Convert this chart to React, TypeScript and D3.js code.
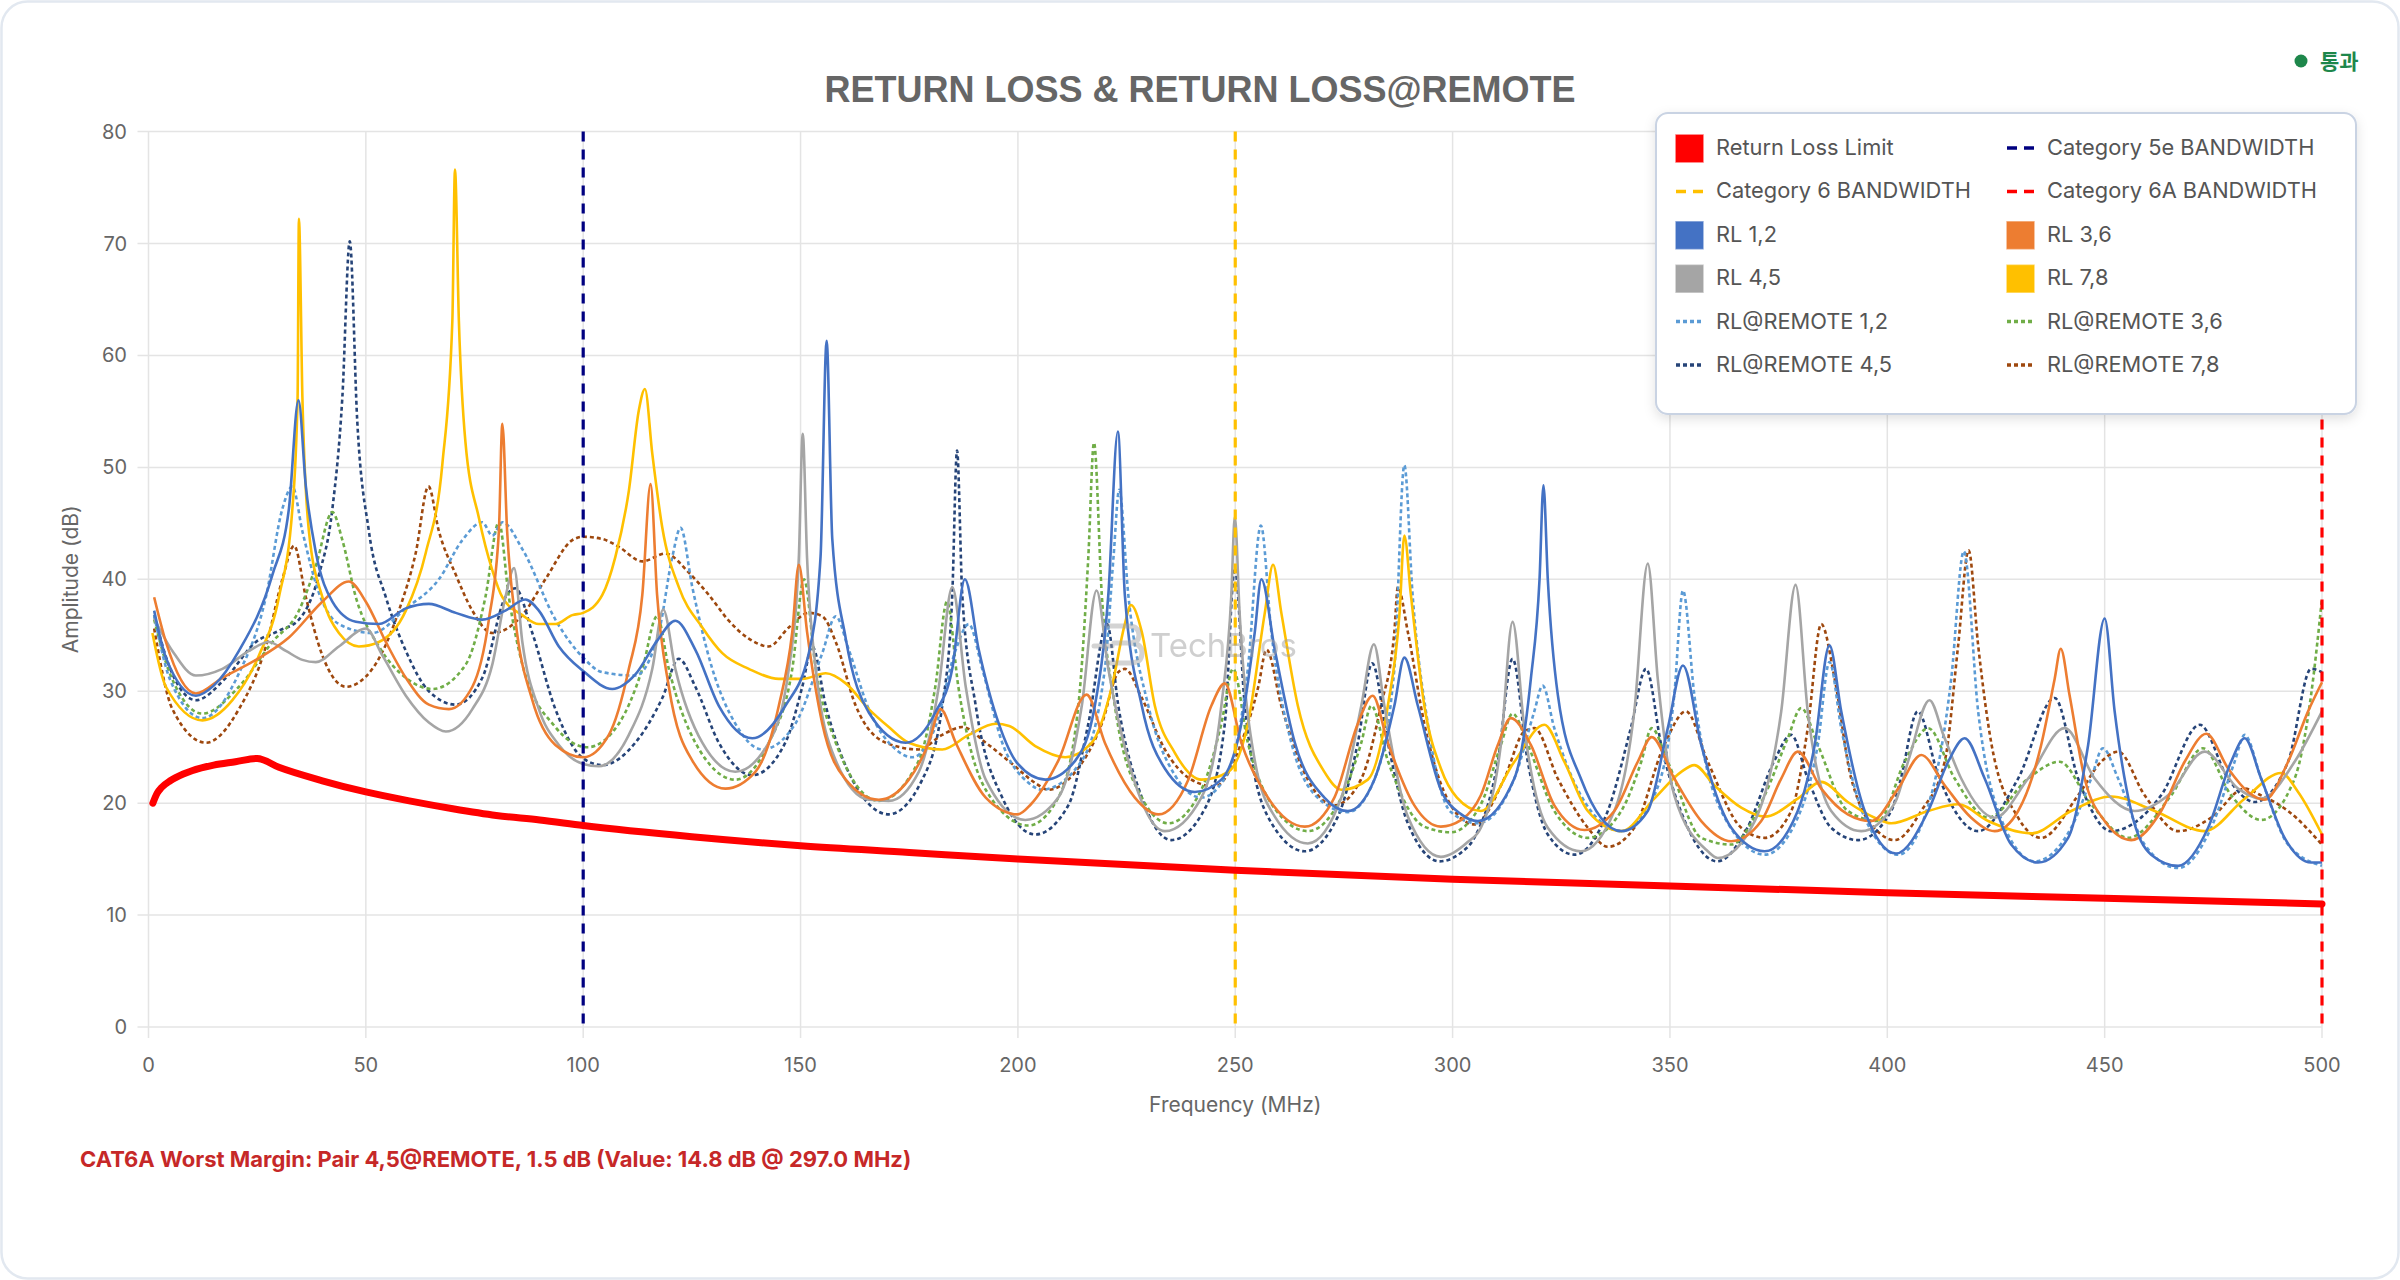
import React from "react";
import * as d3 from "d3";

type P = [number, number];

const X_TICKS = [0, 50, 100, 150, 200, 250, 300, 350, 400, 450, 500];
const Y_TICKS = [0, 10, 20, 30, 40, 50, 60, 70, 80];

const LIMIT: P[] = [[1,20],[2,20.9],[3,21.4],[5,22],[8,22.6],[10,22.9],[15,23.4],[20,23.7],[25,24],[30,23.2],[40,22],[50,21],[60,20.2],[70,19.5],[80,18.9],[90,18.5],[100,18],[125,17],[150,16.2],[175,15.6],[200,15],[250,14],[300,13.2],[350,12.6],[400,12],[450,11.5],[500,11]];

const RL_12: P[] = [[1.3,37.2],[4,33],[10.9,29.6],[15,30.5],[20.8,33.6],[28.5,40.4],[32.3,46.3],[34.5,56],[36.2,48.3],[38.5,42.4],[42.3,38],[47.7,36.2],[53,36],[59.2,37.4],[64.5,37.8],[70.7,37],[76.8,36.4],[82.1,37.2],[86.7,38.2],[89.8,37.2],[94.4,34],[100,31.8],[106.7,30.2],[112,31.5],[117,34.5],[121.2,36.3],[125.8,33.7],[131.2,28.7],[138.9,25.8],[146.5,28.7],[151.9,33.4],[154.6,42],[156,61.3],[157.3,43.6],[160.4,34.7],[165.7,28.1],[174.2,25.4],[181,28.1],[184.9,32],[187.8,40],[191,33.7],[195.6,27.1],[200,23.5],[206.3,22.1],[213.2,23.8],[217.7,28.7],[220.8,38.6],[223,53.2],[224.6,38.6],[228.5,28.7],[233.8,23.1],[240.7,21],[246.8,22.1],[251.4,27.1],[254.5,35.3],[256,40],[259.1,33.7],[263.7,25.4],[270.5,20.5],[275.9,19.3],[282,22.1],[286.6,28.7],[288.9,33],[292,28.7],[297.3,21.2],[302,19],[305.8,18.4],[314.2,22.2],[318,31.1],[320,40],[320.9,48.4],[321.9,40],[324.2,29.7],[329.5,22.2],[338.8,17.5],[344.9,19.3],[349.5,26.7],[353,32.3],[357.2,25.2],[364.1,17.8],[371.8,15.7],[379.4,19.3],[383.3,25.2],[386.7,34.1],[389.4,28.2],[394.8,19.3],[402,15.5],[409.4,19.3],[414,23.7],[417.8,25.8],[422.4,22.2],[428.5,16.3],[434.7,14.7],[441.6,16.9],[446.2,25.2],[450,36.5],[452.3,28.2],[456.1,19.3],[460.7,15.4],[466.9,14.4],[473.8,17.8],[479.1,23.7],[482.2,25.8],[486,22.2],[491.4,16.9],[497.5,14.7],[500,14.7]];

const RL_36: P[] = [[1.3,38.4],[4,34.4],[10.9,29.8],[17,31.2],[24.7,32.8],[32.3,34.8],[40,38],[46.1,39.8],[50,38],[54.6,34.4],[59.2,31.2],[64.5,28.8],[69.1,28.4],[74.5,30.4],[78.3,36.4],[80.6,44.3],[81.4,53.9],[82.5,44.3],[84.4,36.4],[88.3,29.2],[93.6,25.2],[100,24.1],[105.9,26.1],[110.5,32],[113.6,38.6],[115.5,48.5],[117,38.6],[119.7,30.4],[125.1,23.8],[132.7,21.3],[139.6,22.8],[145,28.7],[148.1,35.3],[149.6,41.3],[151.5,35.3],[155,27.1],[160.4,22.1],[168,20.3],[174.9,22.1],[179.5,25.4],[182.2,28.4],[185.7,25.4],[192.6,20.5],[200,19],[203,19.9],[209.3,23.8],[215.8,29.7],[220,25.4],[226.9,20.5],[232.3,19],[239.2,22.1],[244.5,28.7],[247.6,30.7],[251.4,25.4],[257.5,20.5],[266,17.9],[272.8,20.5],[278.2,27.1],[281.6,29.6],[285.1,25.4],[291.2,19.8],[297.3,17.9],[302,18.5],[306.5,20.7],[310.4,25.2],[313.4,27.6],[318,25.2],[323.4,19.8],[330.3,17.6],[337.2,19.3],[342.6,23.7],[345.8,25.9],[351,22.2],[357.2,18.4],[364.1,16.6],[371,18.4],[375.6,22.2],[379.4,24.6],[384.8,21.3],[390.9,19],[396.3,18.4],[402.5,21.3],[407.8,24.3],[413.2,21.6],[419.3,18.7],[424.7,17.5],[430.1,19.3],[435.4,25.2],[438.5,31.1],[439.9,33.8],[441.9,29.7],[445.4,22.2],[450,18.4],[456.1,16.7],[463,19.3],[468.4,23.7],[473.4,26.2],[478.4,23.1],[483,21],[486.8,20.3],[492.2,23.7],[496.8,28.2],[500,30.8]];

const RL_45: P[] = [[1.3,36.5],[5.5,33.6],[10.9,31.4],[17,32],[23.1,33.6],[27.7,34.4],[31.6,33.6],[35.4,32.8],[38.5,32.6],[43.8,34],[50,35.6],[53.8,33.2],[59.2,29.6],[64.5,27.2],[68.4,26.4],[74.5,28.4],[79.1,32.4],[82.1,38.4],[84.1,41],[86,34.4],[89.8,28.4],[94.4,25.2],[100,23.5],[103.6,23.3],[110.5,26.1],[115.9,32],[118.4,37.3],[121.2,32],[127.4,25.4],[135,22.8],[142.7,25.4],[147.3,32],[149.6,41.9],[150.5,53],[151.5,41.9],[153.5,32],[158.1,23.8],[165.7,20.3],[170.3,20.2],[177.2,22.8],[181.8,30.4],[184.9,39.3],[188,30.4],[192.6,22.1],[201.7,18.5],[209.3,20.5],[214.7,28.7],[218.1,39],[220.8,32],[225.4,23.8],[233.8,17.5],[242.2,20.5],[246.8,28.7],[249.1,38.6],[249.9,45.6],[251,37],[254.5,23.8],[259.1,18.8],[266.7,16.4],[274.4,20.5],[279,28.7],[281.9,34.2],[284.3,28.7],[289.7,18.8],[297.3,15.2],[303.4,16.5],[306.5,17.8],[311.1,25.2],[313.8,36.2],[316.5,26.7],[321.9,17.8],[329.5,15.7],[337.2,19.3],[341.8,28.2],[344.9,41.4],[347.2,31.1],[351,20.7],[358.7,15.7],[361,15.1],[369.5,18.4],[375.6,28.2],[378.9,39.5],[381.7,28.2],[387.1,19.3],[394,17.5],[401.7,20],[405,24],[409.7,29.2],[413,26],[417,22.2],[424.7,18.7],[432.4,22.2],[440.8,26.7],[447.7,22.2],[456.9,19.3],[464.6,20.7],[473,24.6],[480.7,21.3],[486,20.4],[493.7,23.7],[500,28.2]];

const RL_78: P[] = [[0.9,35.2],[4,30.4],[12.4,27.4],[19.3,29.2],[25.4,33.2],[30,38.4],[33.1,46.3],[34.3,56.3],[34.6,72.2],[35.4,56.3],[36.9,44.3],[40,38.4],[43.8,35.2],[48.4,34],[53,34.4],[59.2,37.2],[63.8,42.4],[67.6,50.3],[69.9,63.1],[70.5,76.6],[71.4,63.1],[72.9,52.3],[76,45.5],[79.1,40.8],[81.4,38.4],[86,36.8],[89.8,36],[93.6,36],[97.5,36.8],[100,37],[104.4,38.6],[107.4,42],[110.5,47.9],[112.8,55.1],[114.2,57],[115.9,51.2],[118.2,44.6],[122,39.3],[127.4,35.7],[132,33.4],[138.1,32],[145,31.1],[150.4,31.1],[155.8,31.6],[160.4,30.7],[165.7,28.4],[170.3,26.8],[174.9,25.4],[182.6,24.8],[188.7,26.1],[194.9,27.1],[198,26.9],[204,25.1],[210.9,24.1],[217,25.4],[221.6,30.4],[224.6,36],[226,37.7],[228.5,35.3],[231.5,28.7],[236.1,24.5],[242.2,22.1],[248.4,22.8],[252.9,27.1],[256.8,37],[258.7,41.3],[260.6,37],[264.4,28.7],[270.5,22.8],[274.4,21.2],[280.5,22.1],[285.1,28.7],[287.8,37],[288.9,43.9],[290.4,38.6],[293.5,28.7],[297.3,23.1],[301,20.5],[306.5,19.3],[314.2,23.7],[321.1,27],[325.7,23.7],[331.1,19.3],[338.8,17.5],[346.4,20.4],[352.6,22.8],[355.6,23.4],[360.2,21.6],[366.4,19.6],[371.8,18.8],[379.4,20.4],[384.8,21.9],[390.9,20.1],[397.1,18.7],[400.9,18.2],[409.4,19.3],[416.3,19.9],[423.2,18.4],[433.1,17.3],[442.3,19.3],[451.5,20.6],[461.5,19.3],[473,17.5],[482.2,20.4],[490.6,22.7],[494.5,21],[500,17.2]];

const REMOTE_12: P[] = [[1.3,36.8],[5,31],[12.4,27.6],[20.8,31.6],[27,38.4],[30.8,46.3],[33.1,48.3],[35.4,44.3],[39.2,38.8],[43.8,36],[51.5,35.2],[59.2,37.4],[66.8,40],[72.2,43.5],[76.8,45.1],[79.1,43.9],[81.4,45.1],[86,42.7],[93.6,36.4],[100,33],[104.4,31.7],[112,31.4],[117.4,35.3],[120.5,42],[122.4,44.6],[125.1,39.3],[129.7,32],[135,27.1],[141.2,24.8],[148.8,27.1],[155,33.4],[158.1,36.7],[161.1,33.7],[165.7,28.4],[171.9,24.8],[175.7,24.1],[181,26.8],[185.7,33.7],[188.7,36],[191.8,32],[196.4,25.4],[202.5,21.8],[205.5,21.2],[214.7,23.8],[220,32],[222,42],[223.3,48],[225.4,38.6],[230,28.7],[236.1,22.5],[242.2,20.5],[248.4,22.8],[252.9,32],[255.9,44.8],[258.3,35.3],[262.9,25.4],[269.8,20.2],[275.9,19.2],[282,22.1],[286.6,32],[288.9,50.2],[290.8,38.6],[294.3,27.1],[299.6,19.2],[305.8,18.2],[314.2,22.2],[318.8,28.2],[320.7,30.5],[323.4,26.7],[329.5,20.7],[338.8,17.5],[346.4,20.7],[351,29.7],[353,39],[355.6,29.7],[361.8,19.3],[371.8,15.4],[379.4,18.7],[384,25.2],[386.7,32.6],[389.4,26.7],[394.8,18.7],[402.5,15.4],[410.1,20.7],[414.7,31.1],[417.6,42.5],[420.9,28.2],[425.5,19.3],[433.9,14.8],[442.3,17.8],[446.9,22.2],[449.6,24.9],[453.1,22.2],[459.2,16.3],[466.9,14.2],[474.5,17.8],[479.9,23.7],[482.2,26.1],[486,22.2],[492.2,16.3],[500,14.4]];

const REMOTE_36: P[] = [[1.3,36.4],[5,31.5],[12.4,28],[20.8,30.4],[28.5,34.4],[34.6,37.2],[38.5,41.2],[42.3,46],[44.6,43.5],[47.7,38.4],[53,34],[59.2,31.2],[65.3,30.2],[73,32.4],[77.5,38.4],[80.6,45.1],[82.9,38.4],[86,32.4],[93.6,26.8],[101,25],[108.2,27.1],[113.6,32],[117,36.7],[119.7,32],[125.8,25.4],[135,22.1],[142.7,25.4],[148.1,32],[150.8,40],[153.5,32],[158.1,25.4],[168,20.2],[177.2,23.8],[181,30.4],[183.7,38],[186.3,30.4],[192.6,21.2],[202.4,18],[209.3,20.5],[213.9,28.7],[216.2,42],[217.5,52.2],[219.3,38.6],[222.3,28.7],[228.5,20.5],[234.6,18.2],[242.2,21.2],[246.8,27.1],[249.5,32],[252.9,25.4],[259.1,19.5],[266.7,17.5],[274.4,20.5],[279,25.4],[281.3,28.7],[285.1,23.8],[293.5,17.9],[299.6,17.4],[306.5,19.9],[311.1,25.2],[313.8,28],[317.3,25.2],[323.4,19.3],[331.1,16.9],[338.8,19.3],[343.4,23.7],[345.8,26.7],[349.5,23.7],[357.2,16.9],[364.1,16.3],[371.8,20.7],[377.1,25.8],[380.2,28.5],[384,25.2],[390.9,19.3],[397.9,18.4],[404,23.7],[409.4,26.7],[415.5,22.2],[423.2,18.7],[432.4,22.2],[439.6,23.7],[446.9,19.9],[455.4,16.9],[465.3,20.7],[472.6,24.9],[479.1,20.7],[486,18.5],[493.7,22.2],[497.5,29.7],[500,38.3]];

const REMOTE_45: P[] = [[1.3,36.8],[5,32],[10.9,29.2],[17.8,31.2],[24.7,34.4],[30,35.4],[34.6,36.4],[39.2,40.4],[42.3,46.3],[44.6,56.3],[46.3,70.2],[48,54.3],[50.7,44.3],[54.6,38.4],[59.2,33.6],[64.5,30],[70.7,28.8],[76.8,31.2],[82.1,38.4],[84.4,39.2],[88.3,35.2],[93.6,28.4],[100,24],[104.4,23.4],[112,25.4],[118.2,29.4],[122,32.9],[125.8,30.4],[131.2,25.4],[138.9,22.5],[146.5,25.4],[150.4,30.4],[152.7,34],[155.8,28.7],[161.9,22.1],[170.3,19],[178,22.1],[182.6,28.7],[184.9,38.6],[186,51.5],[187.2,38.6],[190.3,28.7],[196.4,20.5],[204,17.2],[211.6,19.8],[216.2,27.1],[220.5,36],[223.1,28.7],[228.5,20.5],[235.3,16.7],[243,19.5],[247.6,27.1],[249.9,41],[252.2,28.7],[257.5,18.8],[266,15.7],[273.6,18.8],[278.2,25.4],[281.5,32.5],[285.1,25.4],[289.7,18.2],[297,14.8],[302,15.6],[305,16.9],[310.4,23.7],[313.8,32.9],[317.3,23.7],[321.9,17.2],[328,15.4],[335.7,19.3],[341,26.7],[344.5,32],[348,25.2],[354.1,17.8],[360.9,14.8],[367.8,17.8],[373.9,23.7],[377.9,26.1],[381.7,22.2],[387.1,17.8],[393.3,16.7],[400.9,19.3],[403,22],[407,28.2],[411.7,22.5],[420.9,17.5],[430.1,22.2],[438.5,29.4],[443.9,22.2],[451.5,17.5],[463,20.7],[471.9,27],[478.4,22.2],[484.5,20.1],[492.2,23.7],[497.5,32],[500,31.7]];

const REMOTE_78: P[] = [[1.3,35.6],[5.5,28.4],[13.2,25.4],[20.8,28.4],[27,34],[30.8,40],[33.5,43],[36.2,38.4],[40,33.2],[45.4,30.4],[51.5,32],[57.6,37.2],[61.5,42.4],[64.4,48.3],[66.8,44.3],[70.7,40.4],[74.5,37.2],[79.1,35.2],[86,36.8],[91.3,40],[97.5,43.5],[100,43.8],[104.4,43.6],[108.2,42.9],[113.6,41.6],[118.9,42.3],[124.3,40.6],[128.9,38.6],[133.5,36.3],[138.1,34.7],[142.7,34],[147.3,35.7],[151.9,37],[155,36.7],[158.1,34.4],[162.7,28.7],[169.6,25.4],[177.2,24.8],[182.6,26.1],[187.2,26.8],[192.6,25.4],[198.7,23.5],[204,21.8],[207,21.2],[213.2,22.8],[219.3,27.1],[223.1,31.7],[224.6,32],[228.5,29.4],[233.8,24.8],[239.9,22.1],[245.3,21.5],[251.4,25.4],[255.3,30.4],[257.2,33.7],[260.6,28.7],[266.7,22.1],[272.8,19.8],[278.9,22.1],[283.5,28.7],[286.6,35.3],[287.4,39.3],[289.7,35.3],[293.5,27.1],[299.6,19.8],[305,18.1],[311.9,22.2],[316.5,26.4],[318.8,26.7],[324.2,22.2],[331.1,17.8],[335.7,16.1],[341.8,17.8],[348.7,25.2],[353.7,28.2],[358.7,23.7],[366.4,17.8],[371.8,16.9],[377.9,19.3],[381.7,26.7],[384.8,36],[387.9,31.1],[391.7,22.2],[398.6,17.2],[401.7,16.7],[407.8,19.3],[413.2,23.7],[416.3,34.1],[418.7,42.6],[420.9,34.1],[424,25.2],[430.1,18.7],[435.4,16.9],[443.9,20.7],[449.2,23.7],[453.1,24.6],[459.2,20.7],[466.9,17.5],[474.5,18.7],[482.2,21.3],[486,20.7],[492.2,19.3],[500,16.3]];

const BANDWIDTHS = [
  { label: "Category 5e BANDWIDTH", f: 100, color: "#000080" },
  { label: "Category 6 BANDWIDTH", f: 250, color: "#FFC000" },
  { label: "Category 6A BANDWIDTH", f: 500, color: "#FF0000" },
];

const SERIES = [
  { label: "RL 1,2", data: RL_12, color: "#4472C4", dotted: false },
  { label: "RL 3,6", data: RL_36, color: "#ED7D31", dotted: false },
  { label: "RL 4,5", data: RL_45, color: "#A5A5A5", dotted: false },
  { label: "RL 7,8", data: RL_78, color: "#FFC000", dotted: false },
  { label: "RL@REMOTE 1,2", data: REMOTE_12, color: "#5B9BD5", dotted: true },
  { label: "RL@REMOTE 3,6", data: REMOTE_36, color: "#70AD47", dotted: true },
  { label: "RL@REMOTE 4,5", data: REMOTE_45, color: "#264478", dotted: true },
  { label: "RL@REMOTE 7,8", data: REMOTE_78, color: "#9E480E", dotted: true },
];

const W = 2400;
const H = 1280;
const X0 = 148.5, X1 = 2322, Y0 = 1027, Y1 = 131.6;
const FONT = "Inter, 'Noto Sans', sans-serif";

export default function App() {
  const x = d3.scaleLinear().domain([0, 500]).range([X0, X1]);
  const y = d3.scaleLinear().domain([0, 80]).range([Y0, Y1]);
  const line = d3
    .line<P>()
    .x((d) => x(d[0]))
    .y((d) => y(d[1]))
    .curve(d3.curveMonotoneX);

  type LegendItem = { label: string; color: string; kind: "box" | "dash" | "dot" };
  const legendItems: LegendItem[] = [
    { label: "Return Loss Limit", color: "#FF0000", kind: "box" },
    { label: BANDWIDTHS[0].label, color: BANDWIDTHS[0].color, kind: "dash" },
    { label: BANDWIDTHS[1].label, color: BANDWIDTHS[1].color, kind: "dash" },
    { label: BANDWIDTHS[2].label, color: BANDWIDTHS[2].color, kind: "dash" },
    ...SERIES.map((s) => ({ label: s.label, color: s.color, kind: (s.dotted ? "dot" : "box") as "dot" | "box" })),
  ];
  const LX = [1676, 2007];
  const LTX = [1716, 2047];
  const LY0 = 148, LDY = 43.4;

  return (
    <div style={{ position: "absolute", left: 0, top: 0, width: W, height: H, background: "#fff" }}>
      <svg width={W} height={H} viewBox={`0 0 ${W} ${H}`} style={{ display: "block" }}>
        <defs>
          <filter id="lshadow" x="-10%" y="-10%" width="120%" height="130%">
            <feDropShadow dx="0" dy="4" stdDeviation="6" floodColor="#000" floodOpacity="0.12" />
          </filter>
          <clipPath id="plotclip">
            <rect x={X0} y={Y1 - 2} width={X1 - X0 + 2} height={Y0 - Y1 + 4} />
          </clipPath>
        </defs>
        <rect x={1.5} y={1.5} width={W - 3} height={H - 3} rx={26} fill="#fff" stroke="#e2e8f0" strokeWidth={2.5} />

        {/* title */}
        <text x={1200} y={102} textAnchor="middle" fontFamily="'Liberation Sans', Arial, sans-serif" fontWeight="bold" fontSize={36} fill="#666">
          RETURN LOSS &amp; RETURN LOSS@REMOTE
        </text>

        {/* status */}
        <circle cx={2301} cy={61} r={6.5} fill="#1e874b" />
        <text x={2320} y={69} fontFamily="'Noto Sans CJK KR', sans-serif" fontWeight="bold" fontSize={21} fill="#1e874b">통과</text>

        {/* grid */}
        {Y_TICKS.map((t) => (
          <line key={"gy" + t} x1={X0 - 11} x2={X1} y1={y(t)} y2={y(t)} stroke="#e4e4e4" strokeWidth={1.5} />
        ))}
        {X_TICKS.map((t) => (
          <line key={"gx" + t} x1={x(t)} x2={x(t)} y1={Y1} y2={Y0 + 11} stroke="#e4e4e4" strokeWidth={1.5} />
        ))}
        {Y_TICKS.map((t) => (
          <text key={"ty" + t} x={127} y={y(t) + 7} textAnchor="end" fontFamily={FONT} fontSize={20} fill="#666">{t}</text>
        ))}
        {X_TICKS.map((t) => (
          <text key={"tx" + t} x={x(t)} y={1072} textAnchor="middle" fontFamily={FONT} fontSize={20} fill="#666">{t}</text>
        ))}
        <text x={(X0 + X1) / 2} y={1112} textAnchor="middle" fontFamily={FONT} fontSize={21} fill="#666">Frequency (MHz)</text>
        <text transform={`translate(78, ${(Y0 + Y1) / 2}) rotate(-90)`} textAnchor="middle" fontFamily={FONT} fontSize={21} fill="#666">Amplitude (dB)</text>

        {/* series */}
        <g clipPath="url(#plotclip)">
          {[...SERIES].reverse().map((s) => (
            <path
              key={s.label}
              d={line(s.data) || ""}
              fill="none"
              stroke={s.color}
              strokeWidth={2.6}
              strokeDasharray={s.dotted ? "4 3" : undefined}
              strokeLinejoin="round"
            />
          ))}
        </g>
        {[...BANDWIDTHS].reverse().map((b) => (
          <line key={b.label} x1={x(b.f)} x2={x(b.f)} y1={Y1} y2={Y0} stroke={b.color} strokeWidth={3.2} strokeDasharray="10 8" />
        ))}
        <path d={line(LIMIT) || ""} fill="none" stroke="#FF0000" strokeWidth={7} strokeLinejoin="round" strokeLinecap="round" />

        {/* watermark */}
        <g opacity={0.45} fill="none" stroke="#a0a0a0" strokeWidth={5} strokeLinecap="round" strokeLinejoin="round">
          <path d="M1108,626 h20 q11,0 11,9 q0,8 -11,8 h-14 M1122,643 h8 q12,0 12,10 q0,10 -12,10 h-22" />
          <path d="M1094,646 h18" />
        </g>
        <text x={1150} y={657} fontFamily={FONT} fontSize={33} fill="#a0a0a0" opacity={0.5}>TechBros</text>

        {/* legend */}
        <rect x={1656} y={113} width={700} height={301} rx={12} fill="#fff" stroke="#c9d3e3" strokeWidth={2} filter="url(#lshadow)" />
        {legendItems.map((it, i) => {
          const col = i % 2;
          const row = Math.floor(i / 2);
          const cy = LY0 + row * LDY;
          const sx = LX[col];
          return (
            <g key={it.label}>
              {it.kind === "box" && (
                <rect x={sx} y={cy - 13} width={27} height={27} fill={it.color} stroke={it.color} strokeOpacity={0.6} strokeWidth={1.5} />
              )}
              {it.kind === "dash" && (
                <line x1={sx} x2={sx + 27} y1={cy} y2={cy} stroke={it.color} strokeWidth={3.5} strokeDasharray="10 7" />
              )}
              {it.kind === "dot" && (
                <line x1={sx} x2={sx + 27} y1={cy} y2={cy} stroke={it.color} strokeWidth={3.5} strokeDasharray="4 3" />
              )}
              <text x={LTX[col]} y={cy + 7} fontFamily={FONT} fontSize={21.8} fill="#555">{it.label}</text>
            </g>
          );
        })}

        {/* footer */}
        <text x={80} y={1167} fontFamily={FONT} fontWeight="bold" fontSize={22} fill="#c62828">
          CAT6A Worst Margin: Pair 4,5@REMOTE, 1.5 dB (Value: 14.8 dB @ 297.0 MHz)
        </text>
      </svg>
    </div>
  );
}
